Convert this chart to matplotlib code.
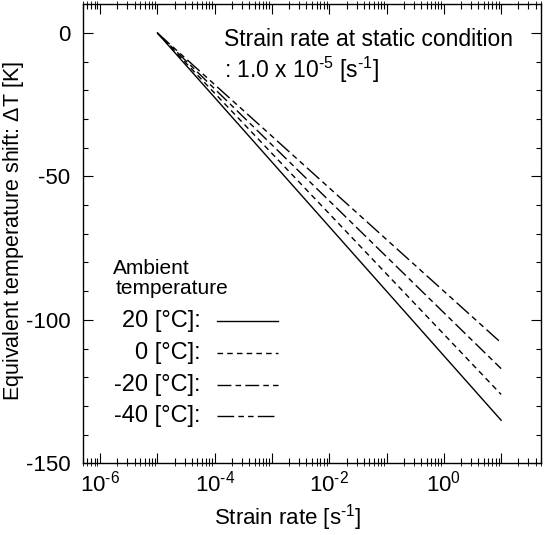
import numpy as np
import matplotlib
matplotlib.use("Agg")
import matplotlib.pyplot as plt
from matplotlib.ticker import LogLocator, MultipleLocator, FixedLocator, NullFormatter
from matplotlib.lines import Line2D

plt.rcParams["font.family"] = ["Liberation Sans", "DejaVu Sans"]
plt.rcParams["mathtext.fontset"] = "custom"
plt.rcParams["mathtext.rm"] = "Liberation Sans"
plt.rcParams["mathtext.it"] = "Liberation Sans"
plt.rcParams["mathtext.default"] = "rm"
plt.rcParams["axes.unicode_minus"] = False

# Lines are straight on log-x: start at the static strain rate, end at 10 s^-1
strain_start = 1e-5
strain_end = 10.0
temps = ["20", "0", "-20", "-40"]
shift_end = [-135.0, -126.0, -117.0, -108.0]
styles = ["-", (0, (4, 3)), (0, (10, 3, 4, 3)), (0, (12, 3, 4, 3, 4, 3))]

x_ticks = [1e-6, 1e-4, 1e-2, 1e0]
x_tick_labels = ["10$^{\\text{-}6}$", "10$^{\\text{-}4}$", "10$^{\\text{-}2}$", "10$^{0}$"]
decades = [1e-5, 1e-3, 1e-1, 1e1]
y_ticks = [0, -50, -100, -150]

W, H = 545, 535
fig = plt.figure(figsize=(W / 100, H / 100), dpi=100)
ax = fig.add_axes([0.152, 0.134, 0.841, 0.858])


def px(x, y):
    # pixel position (origin top-left) -> figure fraction
    return x / W, 1 - y / H


for t, yend, ls in zip(temps, shift_end, styles):
    ax.plot([strain_start, strain_end], [0.0, yend], color="black", linewidth=1.0, linestyle=ls)

ax.set_xscale("log")
ax.set_xlim(5e-7, 50)
ax.set_ylim(-150, 10)

ax.xaxis.set_major_locator(FixedLocator(x_ticks))
ax.set_xticklabels(x_tick_labels)
ax.xaxis.set_minor_locator(LogLocator(base=10, subs=np.arange(2, 10), numticks=30))
ax.xaxis.set_minor_formatter(NullFormatter())
ax.set_yticks(y_ticks)
ax.yaxis.set_minor_locator(MultipleLocator(10))

ax.tick_params(which="both", direction="in", top=True, right=True, labelsize=16, width=0.8)
ax.tick_params(which="major", length=7)
ax.tick_params(which="minor", length=3.5)
ax.tick_params(axis="x", which="major", pad=5)
ax.tick_params(axis="y", which="major", pad=9)

# unlabelled decade ticks are long too
for side in ["bottom", "top"]:
    sec = ax.secondary_xaxis(side)
    sec.set_xticks(decades)
    sec.set_xticklabels([])
    sec.tick_params(direction="in", length=7, width=0.8)
    sec.spines[side].set_visible(False)

for s in ax.spines.values():
    s.set_linewidth(1.0)

ax.set_xlabel("Strain rate [s$^{\\text{-}1}$]", fontsize=16)
ax.xaxis.set_label_coords(0.446, -0.085)
ax.set_ylabel("Equivalent temperature shift: $\\Delta$T [K]", fontsize=15.5)
ax.yaxis.set_label_coords(-0.124, 0.505)

fx, fy = px(224, 40)
fig.text(fx, fy, "Strain rate at static condition", fontsize=16.5, va="center", ha="left")
fx, fy = px(224, 70)
fig.text(fx, fy, ": 1.0 x 10$^{\\text{-}5}$ [s$^{\\text{-}1}$]", fontsize=16.5, va="center", ha="left")

# hand-made legend
fx, fy = px(113, 268)
fig.text(fx, fy, "Ambient", fontsize=15, ha="left", va="center")
fx, fy = px(116, 289)
fig.text(fx, fy, "temperature", fontsize=15, ha="left", va="center")
leg_y = [321, 353, 385, 416]
for t, ls, yy in zip(temps, styles, leg_y):
    fx, fy = px(201, yy)
    fig.text(fx, fy, f"{t} [°C]:", fontsize=17, ha="right", va="center")
    x0, y0 = px(217, yy)
    x1, _ = px(278, yy)
    fig.add_artist(Line2D([x0, x1], [y0, y0], transform=fig.transFigure,
                          color="black", linewidth=1.0, linestyle=ls))

fig.savefig("out.png", dpi=100)
